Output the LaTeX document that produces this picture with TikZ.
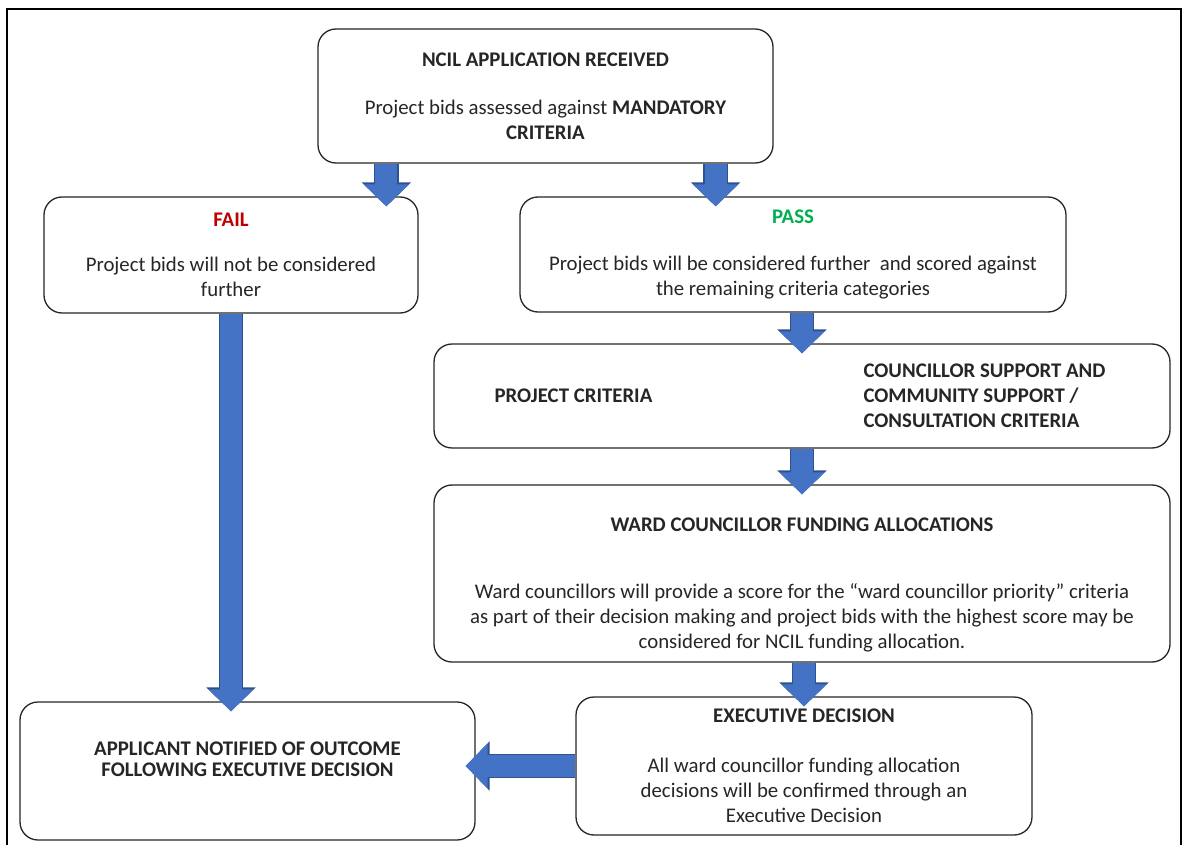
\documentclass[tikz,border=0pt]{standalone}
\usepackage{fontspec}
\setmainfont{Carlito}
\usetikzlibrary{arrows.meta, calc}
\definecolor{flowblue}{HTML}{4472C4}
\definecolor{flowedge}{HTML}{2F528F}
\definecolor{failred}{HTML}{C00000}
\definecolor{passgreen}{HTML}{00B050}
\definecolor{inkgray}{HTML}{262626}

\begin{document}
\begin{tikzpicture}[x=1pt, y=-1pt,
    txt/.style={inner sep=0pt, text=inkgray, font=\fontsize{20.8}{25}\selectfont},
    box/.style={txt, draw=inkgray, line width=1.3pt, rounded corners=18pt, fill=white, align=center},
    flow/.style={draw=flowblue, line width=22pt, shorten >=-10pt, -{Triangle[width=44pt,length=22pt]},
        preaction={draw=flowedge, line width=24.5pt, -{Triangle[width=48pt,length=24pt]}}}]
    \useasboundingbox (0,0) rectangle (1187,845);
    \draw[line width=2pt] (7,860) -- (7,9) -- (1181,9) -- (1181,860);

    \node[box, minimum width=455pt, minimum height=134pt] (top) at (545.5,96)
        {\textbf{NCIL APPLICATION RECEIVED}\\[23pt] Project bids assessed against \textbf{MANDATORY}\\ \textbf{CRITERIA}};
    \node[box, minimum width=374pt, minimum height=116pt] (fail) at (231,255)
        {\textcolor{failred}{\textbf{FAIL}}\\[20pt] Project bids will not be considered\\ further};
    \node[box, minimum width=546pt, minimum height=115pt] (pass) at (793,254.5)
        {\textcolor{passgreen}{\textbf{PASS}}\\[22pt] Project bids will be considered further\ \ and scored against\\ the remaining criteria categories};
    \node[box, minimum width=736pt, minimum height=104pt] (crit) at (802,396) {};
    \node[txt, anchor=west] (critproj) at ([xshift=61pt]crit.west) {\textbf{PROJECT CRITERIA}};
    \node[txt, anchor=west, align=left] (critcomm) at ([xshift=430pt]crit.west)
        {\textbf{COUNCILLOR SUPPORT AND}\\ \textbf{COMMUNITY SUPPORT /}\\ \textbf{CONSULTATION CRITERIA}};
    \node[box, minimum width=736pt, minimum height=177pt] (ward) at (802,573.5)
        {\rule{0pt}{36pt}\textbf{WARD COUNCILLOR FUNDING ALLOCATIONS}\\[42pt]
         Ward councillors will provide a score for the “ward councillor priority” criteria\\
         as part of their decision making and project bids with the highest score may be\\
         considered for NCIL funding allocation.};
    \node[box, minimum width=456pt, minimum height=138pt] (exec) at (804,766)
        {\textbf{EXECUTIVE DECISION}\\[25pt] All ward councillor funding allocation\\ decisions will be confirmed through an\\ Executive Decision};
    \node[box, minimum width=455pt, minimum height=138pt] (notify) at (247.5,771)
        {\textbf{APPLICANT NOTIFIED OF OUTCOME}\\[-4pt] \textbf{FOLLOWING EXECUTIVE DECISION}\rule[-24pt]{0pt}{1pt}};

    \draw[flow] ([xshift=69pt]top.south west) -- ([xshift=69pt]top.south west |- fail.north);
    \draw[flow] ([xshift=-58pt]top.south east) -- ([xshift=-58pt]top.south east |- pass.north);
    \draw[flow] (pass.south -| crit.north) -- (crit.north);
    \draw[flow] (crit.south) -- (ward.north);
    \draw[flow] (ward.south -| exec.north) -- (exec.north);
    \draw[flow] (fail.south) -- (fail.south |- notify.north);
    \draw[flow] (exec.west) -- (exec.west -| notify.east);
\end{tikzpicture}
\end{document}
